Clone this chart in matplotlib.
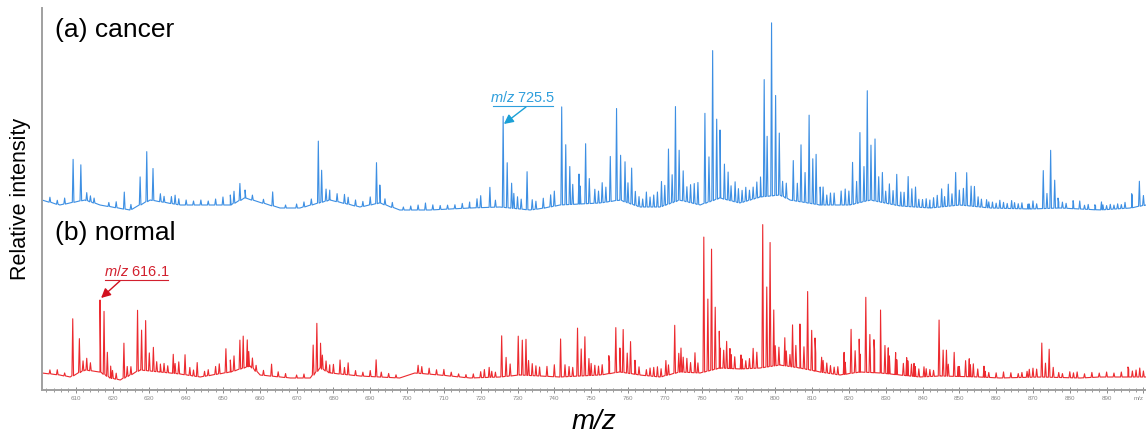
import numpy as np
import matplotlib
matplotlib.use('Agg')
import matplotlib.pyplot as plt

plt.rcParams['font.family'] = ['Liberation Sans', 'DejaVu Sans']
plt.rcParams['mathtext.fontset'] = 'custom'
plt.rcParams['mathtext.it'] = 'Liberation Sans:italic'
plt.rcParams['mathtext.rm'] = 'Liberation Sans'

# ---- (a) cancer: baseline and peaks (m/z, relative intensity) ----
cancer_base_mz = [600.85, 605.7, 612.5, 616.6, 624.7, 630.2, 638.4, 652, 656, 665.5, 670.9,
                  679.1, 687.2, 692.6, 698, 706.2, 717.1, 725.2, 733.4, 737.4, 741.5, 752.4,
                  757.8, 763.3, 768.7, 774.1, 779.6, 785, 790.4, 795.9, 801.3, 804, 812.2,
                  820.3, 825.8, 833.9, 842.1, 850.2, 858.4, 869.2, 877.4, 888.2, 896.4, 900.7]
cancer_base_val = [15, 10, 15, 10, 5, 15, 10, 10, 17, 7, 7,
                   15, 8, 12, 5, 5, 7, 8, 5, 7, 10, 12,
                   15, 8, 8, 15, 10, 17, 12, 18, 20, 15, 10,
                   10, 15, 9, 7, 10, 7, 6, 7, 5, 7, 10]
cancer_peak_mz = [609.3, 611.4, 623.2, 627.5, 629.3, 631.0, 654.6, 663.5, 675.9, 676.8, 691.7, 692.6,
                  722.5, 726.1, 727.2, 728.4, 732.6, 742.0, 743.1, 744.2, 746.7, 748.5, 749.5,
                  755.2, 756.9, 758.0, 759.2, 761.0, 765.0, 769.1, 771.0, 772.0, 772.9, 773.9, 775.0,
                  780.9, 782.0, 783.0, 784.1, 785.0, 786.2, 787.2, 789.1, 795.0, 797.0, 797.8, 799.0,
                  800.1, 801.1, 804.9, 806.0, 807.0, 808.1, 809.2, 810.2, 811.1, 812.2, 813.0,
                  817.9, 819.0, 821.0, 822.1, 823.0, 824.1, 825.0, 826.0, 827.1, 828.1, 829.1,
                  831.0, 833.0, 834.1, 835.0, 836.1, 837.1, 838.1, 845.2, 847.0, 849.0, 850.0,
                  851.1, 852.0, 853.2, 854.1, 855.1, 857.4, 861.0, 864.2, 868.7, 871.0, 872.8,
                  873.8, 874.8, 875.9, 876.8, 880.9, 882.7, 886.8, 888.6, 896.8, 898.9]
cancer_peak_h = [43, 36, 17, 28, 50, 32, 17, 14, 62, 32, 41, 18,
                 20, 91, 45, 25, 38, 98, 60, 38, 30, 60, 25,
                 45, 92, 45, 40, 36, 15, 25, 55, 28, 95, 50, 30,
                 90, 45, 150, 80, 68, 35, 28, 20, 16, 117, 60, 173,
                 100, 62, 40, 18, 57, 30, 88, 45, 50, 18, 18,
                 14, 16, 42, 22, 70, 35, 110, 55, 62, 25, 30,
                 20, 31, 14, 14, 30, 18, 20, 18, 22, 33, 15,
                 17, 33, 20, 20, 10, 8, 8, 8, 5, 5, 38,
                 15, 58, 28, 10, 8, 8, 5, 8, 14, 25]
cancer_minor_mz = [603, 605, 607, 613, 614, 615, 619, 621, 625, 633, 634, 636, 637, 638, 640, 642,
                   644, 646, 648, 650, 652, 653, 656, 658, 661, 667, 670, 672, 674, 678, 679, 681,
                   683, 684, 686, 688, 690, 694, 696, 699, 701, 703, 705, 707, 709, 711, 713, 715,
                   717, 719, 720, 724, 729, 730, 731, 734, 735, 737, 739, 740, 745, 747, 751, 752,
                   753, 754, 760, 762, 763, 764, 766, 767, 768, 770, 776, 777, 778, 779, 788, 790,
                   791, 792, 793, 794, 796, 802, 803, 814, 815, 816, 820, 830, 832, 839, 840, 841,
                   842, 843, 844, 846, 848, 856, 858, 859, 860, 862, 863, 865, 866, 867, 869, 870,
                   877, 878, 879, 881, 884, 885, 887, 889, 890, 891, 892, 893, 894, 895, 897, 900]
cancer_minor_h = [5, 4, 6, 8, 6, 5, 4, 6, 5, 8, 6, 7, 9, 6, 5, 4,
                  5, 4, 6, 8, 10, 12, 8, 5, 4, 3, 4, 5, 6, 12, 10, 8,
                  9, 7, 6, 5, 8, 6, 5, 3, 4, 5, 7, 5, 4, 4, 4, 5,
                  6, 9, 12, 7, 15, 12, 10, 10, 8, 10, 12, 15, 20, 18, 14, 12,
                  20, 15, 20, 14, 10, 8, 10, 12, 15, 20, 15, 18, 20, 22, 15, 14,
                  12, 14, 10, 12, 20, 15, 15, 10, 12, 12, 14, 12, 14, 8, 8, 9,
                  8, 10, 12, 10, 12, 8, 6, 6, 5, 6, 5, 6, 5, 6, 5, 8,
                  6, 6, 5, 6, 4, 5, 4, 5, 4, 5, 4, 5, 4, 6, 12, 10]

# ---- (b) normal ----
normal_base_mz = [600.85, 605.7, 608.5, 612.5, 616.6, 619.4, 622.1, 627.5, 632.9, 638.4, 643.8,
                  652, 657.4, 660.1, 668.3, 673.7, 676.4, 679.1, 687.2, 692.6, 698, 702.1,
                  708.9, 717.1, 725.2, 730.6, 741.5, 752.4, 757.8, 763.3, 768.7, 774.1, 779.6,
                  785, 790.4, 795.9, 801.3, 806.7, 812.2, 817.6, 823, 828.5, 833.9, 839.3,
                  844.8, 855.6, 861, 871.9, 882.8, 888.2, 900.7]
normal_base_val = [17, 15, 13, 20, 18, 12, 10, 20, 18, 16, 13,
                   18, 24, 15, 12, 12, 22, 17, 14, 13, 12, 17,
                   15, 12, 13, 15, 13, 15, 18, 15, 13, 18, 17,
                   22, 21, 22, 25, 22, 18, 15, 18, 17, 15, 13,
                   14, 13, 12, 13, 12, 13, 13]
normal_peak_mz = [609.2, 611.0, 616.6, 617.7, 618.6, 619.5, 623.1, 626.8, 627.9, 629.0, 631.1,
                  636.5, 639.7, 643.0, 650.8, 654.6, 655.5, 656.6, 663.2, 674.5, 675.5, 676.5,
                  681.8, 684.0, 691.6, 722.3, 725.7, 726.9, 730.2, 731.3, 732.3, 741.7, 742.9,
                  746.3, 747.3, 748.3, 749.4, 754.8, 756.7, 757.8, 758.7, 759.8, 760.7, 761.9,
                  770.3, 772.7, 773.8, 774.4, 778.2, 780.6, 781.7, 782.7, 783.7, 784.8, 786.8,
                  787.7, 790.7, 794.0, 796.6, 797.7, 798.6, 799.6, 802.6, 804.7, 805.6, 806.7,
                  807.8, 808.8, 809.9, 810.8, 812.6, 818.7, 820.6, 821.7, 822.8, 824.6, 825.7,
                  826.8, 828.6, 829.8, 830.7, 832.7, 834.8, 835.7, 837.7, 840.4, 844.5, 845.6,
                  846.5, 848.6, 849.7, 851.7, 852.7, 853.8, 856.7, 868.4, 872.4, 873.4, 874.4,
                  875.5, 894.0, 895.8]
normal_peak_h = [57, 34, 72, 63, 24, 12, 35, 61, 40, 50, 24,
                 19, 20, 14, 24, 29, 32, 27, 12, 30, 48, 25,
                 14, 12, 17, 10, 41, 19, 39, 35, 36, 38, 12,
                 48, 27, 39, 17, 18, 45, 24, 43, 20, 32, 14,
                 15, 48, 19, 24, 20, 135, 72, 121, 62, 37, 27,
                 20, 14, 20, 143, 80, 124, 56, 28, 42, 22, 44,
                 22, 78, 40, 33, 15, 22, 44, 22, 33, 75, 38,
                 33, 63, 28, 26, 22, 12, 18, 13, 10, 56, 26,
                 26, 24, 10, 16, 18, 13, 11, 6, 34, 14, 28,
                 10, 5, 10]
normal_minor_mz = [603, 605, 607, 612, 613, 614, 620, 621, 624, 625, 630, 632, 633, 634, 635, 637,
                   638, 641, 642, 645, 646, 648, 649, 652, 653, 657, 658, 659, 661, 665, 667, 670,
                   672, 677, 678, 679, 680, 683, 686, 688, 690, 693, 695, 697, 703, 704, 706, 708,
                   710, 712, 714, 716, 718, 720, 721, 723, 724, 728, 733, 734, 735, 736, 738, 740,
                   744, 745, 750, 751, 752, 753, 755, 762, 763, 765, 766, 767, 768, 769, 771, 775,
                   776, 777, 779, 785, 786, 788, 789, 791, 792, 793, 795, 800, 801, 803, 804, 811,
                   813, 814, 815, 816, 817, 819, 823, 827, 831, 833, 836, 837, 838, 839, 841, 842,
                   843, 847, 850, 853, 855, 857, 858, 860, 862, 864, 866, 867, 869, 870, 871, 877,
                   878, 880, 881, 882, 884, 886, 888, 890, 892, 896, 897, 898, 899, 900]
normal_minor_h = [4, 5, 3, 10, 12, 8, 8, 6, 10, 8, 18, 10, 8, 9, 7, 10,
                  12, 8, 6, 5, 6, 8, 10, 12, 15, 15, 10, 6, 5, 5, 4, 3,
                  4, 14, 10, 8, 9, 7, 5, 4, 6, 5, 4, 3, 8, 7, 6, 5,
                  6, 4, 3, 3, 4, 6, 8, 6, 5, 12, 15, 12, 10, 9, 10, 12,
                  10, 9, 12, 10, 9, 10, 12, 10, 8, 6, 8, 9, 10, 8, 10, 15,
                  14, 10, 10, 20, 18, 14, 12, 10, 8, 10, 16, 20, 18, 15, 12, 18,
                  12, 10, 8, 7, 8, 12, 18, 22, 18, 15, 15, 12, 10, 8, 8, 7,
                  6, 12, 10, 12, 8, 6, 5, 5, 6, 5, 4, 5, 8, 9, 8, 5,
                  4, 6, 5, 6, 4, 5, 4, 5, 4, 8, 6, 7, 9, 6]

major_ticks = list(range(610, 900, 10))
tick_labels = [str(t) for t in major_ticks]


def spectrum(base_mz, base_val, pk_mz, pk_h, half_w=0.22):
    # place every peak as a thin spike on top of the baseline
    pk_mz = np.asarray(pk_mz, float)
    pk_h = np.asarray(pk_h, float)
    b = np.interp(pk_mz, base_mz, base_val)
    xs = np.concatenate([base_mz, pk_mz - half_w, pk_mz, pk_mz + half_w])
    ys = np.concatenate([base_val, b, b + pk_h, b])
    order = np.argsort(xs, kind='stable')
    return xs[order], ys[order]


offset_a = 175  # cancer trace is stacked above the normal one

fig = plt.figure(figsize=(11.46, 4.37), dpi=100)
ax = fig.add_axes([42 / 1146, 47 / 437, 1104 / 1146, 382 / 437])

xa, ya = spectrum(cancer_base_mz, cancer_base_val,
                  cancer_peak_mz + cancer_minor_mz, cancer_peak_h + cancer_minor_h)
xb, yb = spectrum(normal_base_mz, normal_base_val,
                  normal_peak_mz + normal_minor_mz, normal_peak_h + normal_minor_h)
ax.plot(xa, ya + offset_a, color='#3d8fe3', lw=0.8)
ax.plot(xb, yb, color='#ec2a2f', lw=0.8)

ax.set_xlim(600.85, 900.7)
ax.set_ylim(0, 382)

for s in ['top', 'right']:
    ax.spines[s].set_visible(False)
for s in ['left', 'bottom']:
    ax.spines[s].set_color('#a0a0a0')
    ax.spines[s].set_linewidth(1.4)

ax.set_yticks([])
ax.set_xticks(major_ticks + [900])
ax.set_xticklabels(tick_labels + ['m/z'])
ax.get_xticklabels()[-1].set_horizontalalignment('right')
ax.set_xticks(np.arange(602, 901, 2), minor=True)
ax.tick_params(axis='x', which='major', direction='inout', length=4, width=0.7,
               colors='#888888', labelsize=4.5, pad=2)
ax.tick_params(axis='x', which='minor', direction='inout', length=2.5, width=0.6,
               colors='#888888')

ax.set_xlabel('m/z', fontsize=20, style='italic', labelpad=6)
ax.set_ylabel('Relative intensity', fontsize=15.5, labelpad=8)

ax.text(0.012, 0.942, '(a) cancer', transform=ax.transAxes, fontsize=19,
        va='center', ha='left')
ax.text(0.012, 0.411, '(b) normal', transform=ax.transAxes, fontsize=19,
        va='center', ha='left')

# marker annotations
blue_ann = '#2f9fdc'
red_ann = '#d2202e'
ax.text(731.4, 292, r'$\it{m/z}$ 725.5', color=blue_ann, fontsize=10.5,
        ha='center', va='center')
ax.plot([723.3, 739.6], [284, 284], color=blue_ann, lw=0.8)
ax.annotate('', xy=(726.3, 266), xytext=(732.3, 283),
            arrowprops=dict(arrowstyle='-|>', color='#1aa0d6', lw=1.0,
                            mutation_scale=14, shrinkA=0, shrinkB=0))

ax.text(626.5, 118, r'$\it{m/z}$ 616.1', color=red_ann, fontsize=10.5,
        ha='center', va='center')
ax.plot([618.0, 635.1], [110, 110], color=red_ann, lw=0.8)
ax.annotate('', xy=(616.9, 92), xytext=(622.0, 109),
            arrowprops=dict(arrowstyle='-|>', color='#d2101e', lw=1.0,
                            mutation_scale=14, shrinkA=0, shrinkB=0))

plt.savefig('out.png', dpi=100)
